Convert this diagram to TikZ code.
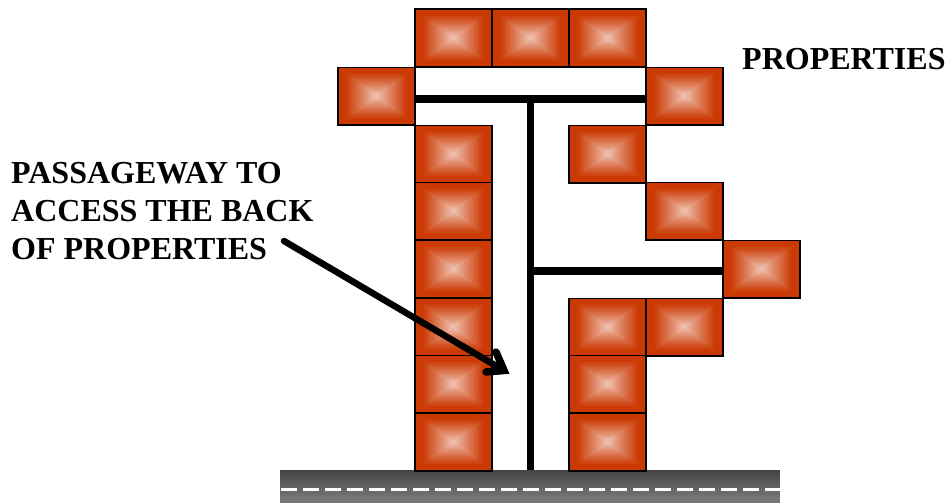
\documentclass[tikz,border=0pt]{standalone}
\usepackage{fontspec}
\setmainfont{Liberation Serif}
\definecolor{tiledark}{HTML}{CB3A04}
\definecolor{tilelight}{HTML}{F0C4B4}
\definecolor{roadtop}{HTML}{444444}
\definecolor{roadbot}{HTML}{767676}
\usetikzlibrary{calc}
\tikzset{
  x=1pt,y=-1pt,
  tile/.style={draw=black,line width=1.5pt,minimum width=77pt,minimum height=57.5pt,inner sep=0pt,outer sep=0pt,
    path picture={
      \foreach \k in {0,...,39}{
        \pgfmathsetmacro{\f}{1-\k/40}
        \pgfmathsetmacro{\p}{100*max(0,(\k/39-0.18)/0.82)^1.15}
        \fill[tilelight!\p!tiledark]
          ($(path picture bounding box.center)!\f!(path picture bounding box.south west)$)
          rectangle
          ($(path picture bounding box.center)!\f!(path picture bounding box.north east)$);
      }
    }},
  roadbed/.style={minimum width=500pt,minimum height=33pt,inner sep=0pt,outer sep=0pt,
    path picture={
      \foreach \k in {0,...,32}{
        \pgfmathsetmacro{\p}{100*min(1,\k/28)}
        \fill[roadbot!\p!roadtop]
          ($(path picture bounding box.north west)+(0,\k)$)
          rectangle
          ($(path picture bounding box.north east)+(0,\k+1.2)$);
      }
    }},
  wall/.style={draw=black,line width=7.5pt},
  pointer/.style={draw=black,line width=6.5pt,line cap=round,line join=miter},
  barb/.style={draw=black,line width=7.5pt,line cap=round,line join=miter},
  label/.style={font=\fontsize{32}{38}\selectfont\bfseries,align=left,inner sep=0pt,anchor=west,text=black}
}
\begin{document}
\begin{tikzpicture}
\useasboundingbox (0,0) rectangle (949,503);
% road
\node[roadbed] (road) at (530,486.5) {};
\coordinate (dashL) at (281,489.5);
\coordinate (dashR) at (780,489.5);
\draw[white,line width=2.5pt,dash pattern=on 16pt off 6pt] (dashL) -- (dashR);
% tiles
\foreach \cx/\cy/\nm in {
  453.5/38/a1,530.5/38/a2,607.5/38/a3,
  376.5/96/b1,684.5/96/b2,
  453.5/154/c1,607.5/154/c2,
  453.5/211/d1,684.5/211/d2,
  453.5/269/e1,761.5/269/e2,
  453.5/327/f1,607.5/327/f2,684.5/327/f3,
  453.5/384/g1,607.5/384/g2,
  453.5/442/h1,607.5/442/h2}{
  \node[tile] (\nm) at (\cx,\cy) {};
}
% walls
\coordinate (wallTop) at (530.3,99);
\coordinate (wallMid) at (530.3,271);
\coordinate (wallBot) at (530.3,470);
\draw[wall] (b1.east |- wallTop) -- (b2.west |- wallTop);
\draw[wall] (wallTop) -- (wallBot);
\draw[wall] (wallMid) -- (e2.west |- wallMid);
% labels
\node[label] (props) at (742,59) {PROPERTIES};
\node[label] (pass) at (11,211) {PASSAGEWAY TO\\ACCESS THE BACK\\OF PROPERTIES};
% arrow
\coordinate (arrS) at (284,241);
\coordinate (arrT) at (504,370.5);
\coordinate (arrA) at (486,372);
\coordinate (arrB) at (496,352);
\draw[pointer] (arrS) -- (arrT);
\draw[barb] (arrA) -- (arrT) -- (arrB);
\end{tikzpicture}
\end{document}
